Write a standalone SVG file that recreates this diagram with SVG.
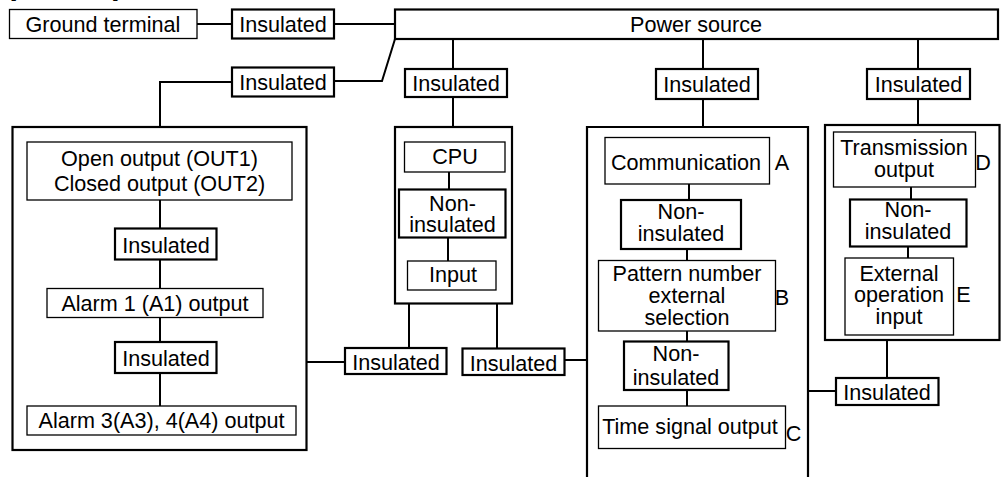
<svg xmlns="http://www.w3.org/2000/svg" width="1007" height="477" viewBox="0 0 1007 477">
<style>
text{font-family:"Liberation Sans",Arial,sans-serif;font-size:21.6px;fill:#000;text-anchor:middle}
.l{text-anchor:start}
.thin{fill:#fff;stroke:#000;stroke-width:1.3}
.thick{fill:#fff;stroke:#000;stroke-width:2.2}
.open{fill:none;stroke:#000;stroke-width:2.2}
.wire{fill:none;stroke:#000;stroke-width:2}
</style>
<rect width="1007" height="477" fill="#fff"/>
<text class="l" x="10" y="-4">[</text>
<text class="l" x="113" y="-4">]</text>

<g id="ground"><rect class="thin" x="9.5" y="9.5" width="187.5" height="29"/><text x="103" y="31.5">Ground terminal</text></g>
<g id="ins-ground"><rect class="thick" x="232" y="9.5" width="102" height="29"/><text x="283" y="31.5">Insulated</text></g>
<g id="power"><rect class="thick" x="395" y="9.5" width="603" height="29.5"/><text x="696" y="31.5">Power source</text></g>
<g id="ins-left"><rect class="thick" x="232" y="67.5" width="102" height="29"/><text x="283" y="89.5">Insulated</text></g>
<g id="ins-cpu"><rect class="thick" x="405" y="69" width="102" height="28"/><text x="456" y="90.5">Insulated</text></g>
<g id="ins-comm"><rect class="thick" x="656" y="69" width="102" height="30"/><text x="707" y="91.5">Insulated</text></g>
<g id="ins-trans"><rect class="thick" x="867" y="69" width="103" height="30"/><text x="918.5" y="91.5">Insulated</text></g>

<g id="left-block">
<rect class="open" x="12.5" y="127" width="294" height="323"/>
<g id="out"><rect class="thin" x="27" y="142" width="265" height="58"/><text x="159.5" y="165.5">Open output (OUT1)<tspan x="159.5" y="191">Closed output (OUT2)</tspan></text></g>
<g id="ins-l1"><rect class="thick" x="115" y="228.5" width="101.5" height="31"/><text x="166" y="252.5">Insulated</text></g>
<g id="alarm1"><rect class="thin" x="47" y="288.5" width="216" height="29"/><text x="155" y="310.5">Alarm 1 (A1) output</text></g>
<g id="ins-l2"><rect class="thick" x="115" y="342" width="101.5" height="31"/><text x="166" y="366">Insulated</text></g>
<g id="alarm3"><rect class="thin" x="27" y="406" width="269" height="29"/><text x="161.5" y="428">Alarm 3(A3), 4(A4) output</text></g>
</g>

<g id="cpu-block">
<rect class="open" x="395" y="127" width="117" height="176.5"/>
<g id="cpu"><rect class="thin" x="404.5" y="142" width="100.5" height="30"/><text x="455" y="164">CPU</text></g>
<g id="noni-cpu"><rect class="thick" x="399" y="189.5" width="106.5" height="48"/><text x="452.5" y="210.5">Non-<tspan x="452.5" y="231.5">insulated</tspan></text></g>
<g id="input"><rect class="thin" x="407.5" y="261" width="88.5" height="29"/><text x="453" y="282">Input</text></g>
</g>

<g id="ins-b1"><rect class="thick" x="345" y="348" width="101.5" height="26"/><text x="396" y="370">Insulated</text></g>
<g id="ins-b2"><rect class="thick" x="462.5" y="348.5" width="102" height="26.5"/><text x="513.5" y="370.5">Insulated</text></g>

<g id="comm-block">
<path class="open" d="M587,477V127H808V477"/>
<g id="comm"><rect class="thin" x="605" y="137.5" width="164.5" height="46.5"/><text x="686" y="170">Communication</text><text x="782" y="170">A</text></g>
<g id="noni-comm1"><rect class="thick" x="621" y="200" width="120" height="49"/><text x="681" y="219">Non-<tspan x="681" y="240.5">insulated</tspan></text></g>
<g id="pattern"><rect class="thin" x="598.5" y="260.5" width="177" height="70.5"/><text x="687" y="281">Pattern number<tspan x="687" y="303">external</tspan><tspan x="687" y="325">selection</tspan></text><text x="782" y="305">B</text></g>
<g id="noni-comm2"><rect class="thick" x="624" y="341.5" width="104.5" height="48.5"/><text x="676" y="361">Non-<tspan x="676" y="385">insulated</tspan></text></g>
<g id="timesig"><rect class="thin" x="598.5" y="406" width="187" height="42.5"/><text x="690" y="434">Time signal output</text><text x="793.5" y="441">C</text></g>
</g>

<g id="trans-block">
<rect class="open" x="825" y="125" width="174.5" height="215"/>
<g id="trans"><rect class="thin" x="833.5" y="132" width="142" height="55"/><text x="904" y="155">Transmission<tspan x="904" y="177">output</tspan></text><text x="983" y="170">D</text></g>
<g id="noni-trans"><rect class="thick" x="850" y="199.5" width="116.5" height="47"/><text x="908" y="217">Non-<tspan x="908" y="238.5">insulated</tspan></text></g>
<g id="extop"><rect class="thin" x="845" y="258" width="108.5" height="77"/><text x="899" y="280.5">External<tspan x="899" y="302">operation</tspan><tspan x="899" y="323.5">input</tspan></text><text x="963.5" y="302">E</text></g>
</g>

<g id="ins-b3"><rect class="thick" x="836" y="378" width="102.5" height="27"/><text x="887" y="400">Insulated</text></g>

<g id="connectors" class="wire">
<path d="M197,24H232"/>
<path d="M334,24H395"/>
<path d="M334,81H382L395,39"/>
<path d="M232,82H160V127"/>
<path d="M453,39V69M453,97V127"/>
<path d="M703,39V69M703,99V127"/>
<path d="M918,39V69M918,99V125"/>
<path d="M160,200V228.5M160,259.5V288.5M160,317.5V342M160,373V406"/>
<path d="M307,362H345"/>
<path d="M449,172V189.5M448,237.5V261"/>
<path d="M409,303.5V348M497,303.5V348.5"/>
<path d="M564.5,360H587"/>
<path d="M689,184V200M687,249V260.5M687,331V341.5M687,390V406"/>
<path d="M911,187V199.5M908,246.5V258"/>
<path d="M887,340V378"/>
<path d="M808,391H836"/>
</g>
</svg>
